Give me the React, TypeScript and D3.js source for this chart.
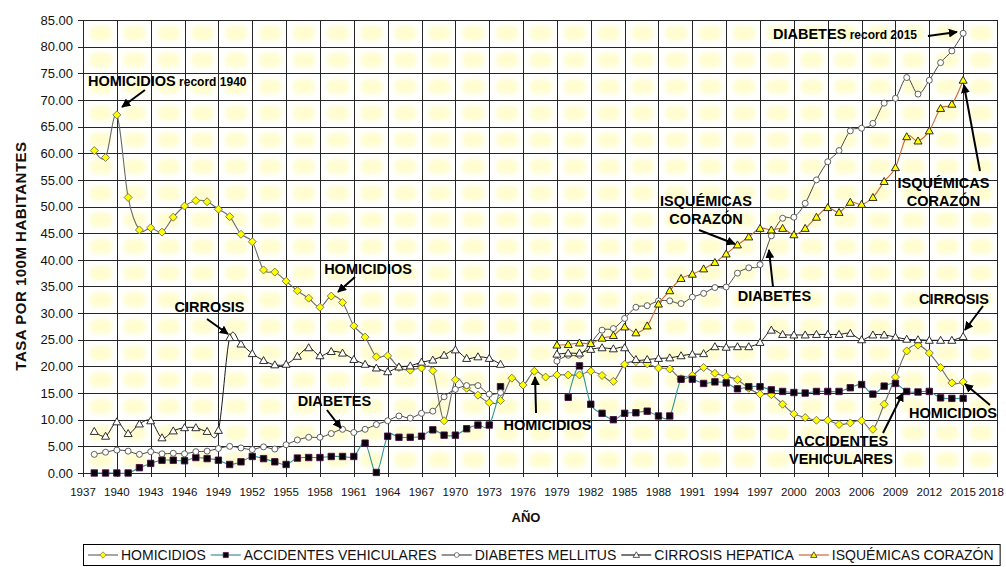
import React, { useEffect, useRef } from "react";
import * as d3 from "d3";

// ---------- DATA ----------
const years: number[] = d3.range(1938, 2016);

const homicidios: (number | null)[] = [
  60.5, 59.2, 67.2, 51.7, 45.6, 46.0, 45.2, 48.0, 50.1, 51.1,
  50.9, 49.5, 48.1, 44.8, 43.4, 38.1, 37.7, 36.0, 34.2, 32.8,
  31.1, 33.2, 32.0, 27.6, 25.5, 21.8, 22.0, 19.8, 19.3, 19.7,
  19.2, 9.8, 17.5, 15.9, 14.6, 13.2, 13.6, 17.8, 16.5, 19.1,
  18.0, 18.4, 18.4, 18.4, 19.1, 18.3, 17.2, 20.4, 20.9, 20.5,
  19.7, 19.5, 17.7, 18.3, 19.8, 18.7, 18.1, 17.5, 15.9, 14.8,
  14.7, 12.9, 11.1, 10.4, 9.9, 9.9, 9.1, 9.4, 9.8, 8.2,
  12.9, 18.0, 22.9, 24.0, 22.5, 19.8, 16.9, 17.1,
];

const accidentes: (number | null)[] = [
  0.0, 0.0, 0.0, 0.0, 1.0, 1.8, 2.4, 2.4, 2.3, 2.9,
  2.7, 2.4, 1.6, 2.1, 3.1, 2.7, 2.1, 1.6, 2.8, 2.9,
  2.9, 3.1, 3.1, 3.1, 5.6, 0.1, 6.9, 6.7, 6.7, 6.9,
  8.1, 7.1, 7.1, 8.3, 9.0, 9.0, 16.2, null, null, null,
  null, null, 14.2, 20.1, 12.9, 11.2, 10.0, 11.2, 11.3, 11.6,
  10.7, 10.7, 17.6, 17.6, 16.8, 17.1, 16.9, 15.8, 16.2, 16.2,
  15.6, 15.3, 15.1, 15.0, 15.3, 15.3, 15.3, 16.0, 16.6, 14.8,
  16.3, 16.8, 15.3, 15.2, 15.3, 14.1, 14.0, 14.0,
];

const diabetes: (number | null)[] = [
  3.5, 3.9, 4.3, 4.1, 3.5, 4.0, 3.6, 3.7, 3.6, 4.0,
  4.1, 4.6, 5.0, 4.7, 4.4, 4.9, 4.5, 5.3, 6.2, 6.7,
  6.7, 7.4, 8.2, 7.6, 8.2, 9.1, 9.8, 10.7, 10.3, 11.2,
  11.6, 14.3, 15.7, 16.4, 16.4, 14.8, 15.1, null, null, null,
  null, 21.0, 22.1, 22.1, 24.4, 26.8, 27.1, 29.0, 31.1, 31.4,
  32.3, 32.3, 31.8, 33.0, 33.7, 34.8, 34.9, 37.5, 38.5, 39.1,
  44.5, 47.8, 48.0, 50.6, 55.0, 58.4, 60.5, 64.2, 64.7, 65.6,
  69.4, 70.3, 74.2, 71.1, 73.7, 77.0, 79.2, 82.5,
];

const cirrosis: (number | null)[] = [
  7.8, 6.9, 9.6, 7.4, 9.2, 9.8, 6.6, 7.9, 8.5, 8.5,
  7.8, 8.0, 25.4, 24.2, 22.4, 21.1, 20.3, 20.4, 21.9, 23.5,
  22.0, 22.8, 22.5, 21.3, 20.4, 19.7, 19.0, 19.9, 20.1, 20.8,
  21.2, 22.1, 23.1, 21.5, 21.8, 21.5, 20.4, null, null, null,
  null, 22.3, 22.5, 22.5, 23.2, 23.5, 23.3, 23.5, 21.3, 21.3,
  21.5, 21.6, 22.0, 22.3, 22.4, 23.7, 23.6, 23.7, 23.7, 24.5,
  26.8, 26.0, 25.9, 25.9, 26.0, 26.0, 26.0, 26.2, 25.0, 25.9,
  25.9, 25.5, 25.1, 25.0, 24.9, 24.9, 24.9, 25.6,
];

const isquemicas: (number | null)[] = [
  null, null, null, null, null, null, null, null, null, null,
  null, null, null, null, null, null, null, null, null, null,
  null, null, null, null, null, null, null, null, null, null,
  null, null, null, null, null, null, null, null, null, null,
  null, 24.0, 24.1, 24.4, 24.3, 25.3, 25.8, 27.4, 26.3, 27.6,
  31.7, 34.2, 36.5, 37.3, 38.3, 39.5, 41.1, 42.8, 44.3, 45.9,
  45.6, 45.9, 44.7, 45.9, 48.0, 49.8, 48.9, 50.8, 50.4, 51.7,
  54.7, 57.3, 63.1, 62.3, 64.2, 68.4, 69.2, 73.7,
];

const seriesNames = [
  "HOMICIDIOS",
  "ACCIDENTES VEHICULARES",
  "DIABETES MELLITUS",
  "CIRROSIS HEPATICA",
  "ISQUÉMICAS CORAZÓN",
];

const xTickLabels = [
  1937, 1940, 1943, 1946, 1949, 1952, 1955, 1958, 1961, 1964, 1967, 1970, 1973, 1976,
  1979, 1982, 1985, 1988, 1991, 1994, 1997, 2000, 2003, 2006, 2009, 2012, 2015, 2018,
];
const yTickLabels = [0, 5, 10, 15, 20, 25, 30, 35, 40, 45, 50, 55, 60, 65, 70, 75, 80, 85];

// annotations in data coordinates: text position and arrow (from -> to)
type Ann = {
  lines: string[];
  sub?: string;
  tx: number;
  ty: number[];
  anchor: string;
  a: [number, number, number, number];
};
const annotations: Ann[] = [
  { lines: ["HOMICIDIOS"], sub: " record 1940", tx: 1937.44, ty: [73.56], anchor: "start", a: [1942.49, 71.87, 1940.46, 68.68] },
  { lines: ["CIRROSIS"], tx: 1948.21, ty: [31.15], anchor: "middle", a: [1947.99, 28.9, 1949.85, 26.08] },
  { lines: ["HOMICIDIOS"], tx: 1962.26, ty: [38.41], anchor: "middle", a: [1961.1, 36.78, 1959.6, 33.96] },
  { lines: ["DIABETES"], tx: 1959.29, ty: [13.51], anchor: "middle", a: [1958.62, 11.82, 1959.86, 8.44] },
  { lines: ["HOMICIDIOS"], tx: 1978.16, ty: [9.01], anchor: "middle", a: [1977.15, 11.26, 1977.06, 18.01] },
  { lines: ["ISQUÉMICAS", "CORAZÓN"], tx: 1992.21, ty: [51.04, 47.66], anchor: "middle", a: [1991.59, 45.6, 1994.78, 42.97] },
  { lines: ["DIABETES"], tx: 1998.28, ty: [33.21], anchor: "middle", a: [1998.15, 34.9, 1997.79, 41.85] },
  { lines: ["DIABETES"], sub: " record 2015", tx: 1998.15, ty: [82.38], anchor: "start", a: [2011.88, 82.0, 2014.45, 82.75] },
  { lines: ["ISQUÉMICAS", "CORAZÓN"], tx: 2013.26, ty: [54.42, 51.04], anchor: "middle", a: [2016.49, 56.67, 2015.07, 72.81] },
  { lines: ["CIRROSIS"], tx: 2014.19, ty: [32.65], anchor: "middle", a: [2016.76, 31.34, 2015.16, 26.83] },
  { lines: ["HOMICIDIOS"], tx: 2014.1, ty: [11.26], anchor: "middle", a: [2017.38, 12.76, 2015.16, 16.7] },
  { lines: ["ACCIDENTES", "VEHICULARES"], tx: 2004.17, ty: [6.0, 2.63], anchor: "middle", a: [2007.9, 7.51, 2009.67, 15.01] },
];

// ---------- STYLE ----------
const FONT = "'Liberation Sans', Arial, Helvetica, sans-serif";
const W = 1006;
const H = 567;
const PL = 83, PR = 997, PT = 20, PB = 473;

type MarkerKind = "diamond" | "square" | "circle" | "triangle";
const styles: { line: string; marker: MarkerKind; fill: string; stroke: string; lw: number }[] = [
  { line: "#6a6a6a", marker: "diamond", fill: "#ffff00", stroke: "#707050", lw: 1.1 },
  { line: "#2f9595", marker: "square", fill: "#080008", stroke: "#4a104a", lw: 1.1 },
  { line: "#4a4a4a", marker: "circle", fill: "#ffffff", stroke: "#505050", lw: 1 },
  { line: "#1a1a1a", marker: "triangle", fill: "#ffffff", stroke: "#1a1a1a", lw: 1 },
  { line: "#cc6a2e", marker: "triangle", fill: "#ffff00", stroke: "#1a1a1a", lw: 1.1 },
];

function markerPath(kind: MarkerKind): string {
  switch (kind) {
    case "diamond":
      return "M0,-4L4,0L0,4L-4,0Z";
    case "square":
      return "M-3.2,-3.2H3.2V3.2H-3.2Z";
    case "circle":
      return "M3,0A3,3 0 1,1 -3,0A3,3 0 1,1 3,0Z";
    case "triangle":
      return "M0,-4L4,3L-4,3Z";
  }
}

export default function App() {
  const ref = useRef<SVGSVGElement>(null);

  useEffect(() => {
    const svg = d3.select(ref.current!);
    svg.selectAll("*").remove();

    const x = d3.scaleLinear().domain([1937, 2018]).range([PL, PR]);
    const y = d3.scaleLinear().domain([0, 85]).range([PB, PT]);

    const defs = svg.append("defs");
    defs
      .append("filter")
      .attr("id", "blur")
      .attr("x", "-30%")
      .attr("y", "-30%")
      .attr("width", "160%")
      .attr("height", "160%")
      .append("feGaussianBlur")
      .attr("stdDeviation", 2);
    defs
      .append("marker")
      .attr("id", "arrow")
      .attr("viewBox", "0 0 10 10")
      .attr("refX", 9)
      .attr("refY", 5)
      .attr("markerWidth", 4.5)
      .attr("markerHeight", 4.5)
      .attr("markerUnits", "strokeWidth")
      .attr("orient", "auto")
      .append("path")
      .attr("d", "M0,0L10,5L0,10Z")
      .attr("fill", "#000");

    svg.append("rect").attr("width", W).attr("height", H).attr("fill", "#fff");

    // background pattern blobs (one per grid cell)
    const bg = svg.append("g").attr("filter", "url(#blur)");
    for (let i = 0; i < xTickLabels.length - 1; i++) {
      for (let j = 0; j < yTickLabels.length - 1; j++) {
        const x0 = x(xTickLabels[i]);
        const x1 = x(xTickLabels[i + 1]);
        const yTop = y(yTickLabels[j + 1]);
        const yBot = y(yTickLabels[j]);
        const cw = x1 - x0;
        const ch = yBot - yTop;
        bg.append("rect")
          .attr("x", x0 + cw * 0.2)
          .attr("y", yTop + ch * 0.22)
          .attr("width", cw * 0.66)
          .attr("height", ch * 0.56)
          .attr("rx", 6)
          .attr("fill", "#fffdd0");
      }
    }

    // gridlines
    const grid = svg.append("g").attr("stroke", "#262626").attr("stroke-width", 1).attr("shape-rendering", "crispEdges");
    yTickLabels.forEach((v) => {
      grid.append("line").attr("x1", PL - 5).attr("x2", PR).attr("y1", Math.round(y(v)) + 0.5).attr("y2", Math.round(y(v)) + 0.5);
    });
    xTickLabels.forEach((v) => {
      grid.append("line").attr("x1", Math.round(x(v)) + 0.5).attr("x2", Math.round(x(v)) + 0.5).attr("y1", PT).attr("y2", PB + 4);
    });

    // axis labels
    const tl = svg.append("g").attr("font-family", FONT).attr("fill", "#111");
    yTickLabels.forEach((v) => {
      tl.append("text")
        .attr("x", PL - 10)
        .attr("y", y(v))
        .attr("dy", "0.36em")
        .attr("text-anchor", "end")
        .attr("font-size", 13)
        .text(v.toFixed(2));
    });
    xTickLabels.forEach((v) => {
      const px = x(v);
      const last = px + 14 > W;
      tl.append("text")
        .attr("x", last ? W - 2 : px)
        .attr("y", 496)
        .attr("text-anchor", last ? "end" : "middle")
        .attr("font-size", 11.5)
        .text(String(v));
    });
    svg.append("text")
      .attr("transform", "translate(26,256) rotate(-90)")
      .attr("text-anchor", "middle")
      .attr("font-family", FONT)
      .attr("font-weight", "bold")
      .attr("font-size", 15)
      .attr("letter-spacing", 0.5)
      .attr("fill", "#111")
      .text("TASA POR 100M HABITANTES");
    svg.append("text")
      .attr("x", 526)
      .attr("y", 522)
      .attr("text-anchor", "middle")
      .attr("font-family", FONT)
      .attr("font-weight", "bold")
      .attr("font-size", 13)
      .attr("fill", "#111")
      .text("AÑO");

    // series
    const allSeries = [homicidios, accidentes, diabetes, cirrosis, isquemicas];
    const line = d3
      .line<number | null>()
      .defined((d) => d != null)
      .x((_, i) => x(years[i]))
      .y((d) => y(d as number))
      .curve(d3.curveCardinal.tension(0));

    allSeries.forEach((data, si) => {
      const st = styles[si];
      const g = svg.append("g");
      g.append("path")
        .attr("d", line(data) || "")
        .attr("fill", "none")
        .attr("stroke", st.line)
        .attr("stroke-width", st.lw);
      g.selectAll("path.m")
        .data(data.map((v, i) => ({ v, yr: years[i] })).filter((d) => d.v != null))
        .join("path")
        .attr("class", "m")
        .attr("d", markerPath(st.marker))
        .attr("transform", (d) => `translate(${x(d.yr)},${y(d.v as number)})`)
        .attr("fill", st.fill)
        .attr("stroke", st.stroke)
        .attr("stroke-width", 0.9);
    });

    // annotations
    const ag = svg.append("g").attr("font-family", FONT).attr("font-weight", "bold").attr("fill", "#000");
    annotations.forEach((a) => {
      a.lines.forEach((ln, k) => {
        const t = ag
          .append("text")
          .attr("x", x(a.tx))
          .attr("y", y(a.ty[k]))
          .attr("dy", "0.36em")
          .attr("text-anchor", a.anchor)
          .attr("font-size", 14.5);
        t.append("tspan").text(ln);
        if (a.sub && k === 0) t.append("tspan").attr("font-size", 12).text(a.sub);
      });
      ag.append("line")
        .attr("x1", x(a.a[0]))
        .attr("y1", y(a.a[1]))
        .attr("x2", x(a.a[2]))
        .attr("y2", y(a.a[3]))
        .attr("stroke", "#000")
        .attr("stroke-width", 2)
        .attr("marker-end", "url(#arrow)");
    });

    // legend
    const lg = svg.append("g").attr("font-family", FONT);
    const lbox = lg
      .append("rect")
      .attr("x", PL + 0.5)
      .attr("y", 544.5)
      .attr("height", 21)
      .attr("fill", "#fff")
      .attr("stroke", "#000")
      .attr("stroke-width", 1);
    let cx = PL + 5;
    const ly = 555;
    seriesNames.forEach((name, si) => {
      const st = styles[si];
      lg.append("line")
        .attr("x1", cx)
        .attr("x2", cx + 30)
        .attr("y1", ly)
        .attr("y2", ly)
        .attr("stroke", st.line)
        .attr("stroke-width", 1.2);
      lg.append("path")
        .attr("d", markerPath(st.marker))
        .attr("transform", `translate(${cx + 15},${ly}) scale(0.8)`)
        .attr("fill", st.fill)
        .attr("stroke", st.stroke)
        .attr("stroke-width", 0.9);
      const t = lg
        .append("text")
        .attr("x", cx + 33)
        .attr("y", ly)
        .attr("dy", "0.36em")
        .attr("font-size", 14)
        .attr("fill", "#111")
        .text(name);
      const w = (t.node() as SVGTextElement).getComputedTextLength();
      cx = cx + 33 + w + 5;
    });
    lbox.attr("width", Math.max(cx - PL + 1, 100));
  }, []);

  return (
    <svg
      ref={ref}
      width={W}
      height={H}
      style={{ position: "absolute", left: 0, top: 0, display: "block" }}
    />
  );
}
